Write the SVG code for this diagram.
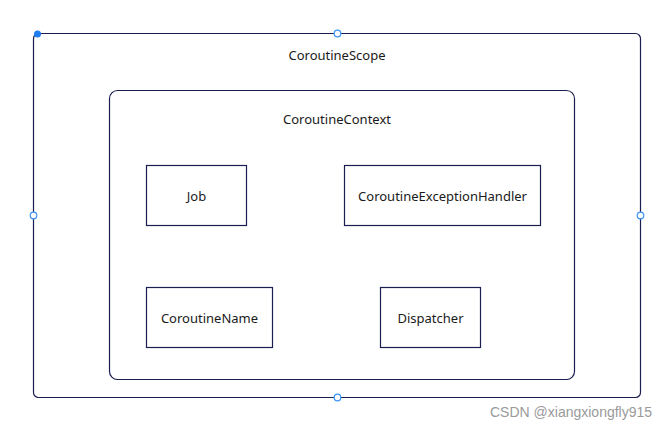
<svg xmlns="http://www.w3.org/2000/svg" width="671" height="430" viewBox="0 0 671 430">
<style>
.box{fill:#ffffff;stroke:#1a1f4f;stroke-width:1.2}
.t{font-family:"Noto Sans","Open Sans",sans-serif;font-size:13px;fill:#1a1a1a;text-anchor:middle;dominant-baseline:central}
.h{fill:#ffffff;stroke:#3d95f5;stroke-width:1.2}
.wm{font-family:"Liberation Sans",Arial,sans-serif;font-size:14px;fill:#9a9a9a}
</style>
<rect width="671" height="430" fill="#ffffff"/>
<g id="scope">
<rect class="box" x="33.5" y="33.5" width="607" height="364" rx="5"/>
<text class="t" x="337" y="55">CoroutineScope</text>
</g>
<g id="context">
<rect class="box" x="109.5" y="90.5" width="465" height="289" rx="8"/>
<text class="t" x="337" y="119">CoroutineContext</text>
</g>
<g id="job">
<rect class="box" x="146.5" y="165.5" width="100" height="60"/>
<text class="t" x="196.5" y="196">Job</text>
</g>
<g id="handler">
<rect class="box" x="344.5" y="165.5" width="196" height="60"/>
<text class="t" x="442.5" y="196">CoroutineExceptionHandler</text>
</g>
<g id="name">
<rect class="box" x="146.5" y="287.5" width="126" height="60"/>
<text class="t" x="209.5" y="318">CoroutineName</text>
</g>
<g id="dispatcher">
<rect class="box" x="380.5" y="287.5" width="100" height="60"/>
<text class="t" x="430.5" y="318">Dispatcher</text>
</g>
<g id="connectors"></g>
<g id="handles">
<circle cx="37.5" cy="34" r="3.5" fill="#1e7ef0"/>
<circle class="h" cx="337.5" cy="33.5" r="3.3"/>
<circle class="h" cx="33.5" cy="215.5" r="3.3"/>
<circle class="h" cx="640.5" cy="215.5" r="3.3"/>
<circle class="h" cx="337.5" cy="397.5" r="3.3"/>
</g>
<text class="wm" x="490" y="417">CSDN @xiangxiongfly915</text>
</svg>
